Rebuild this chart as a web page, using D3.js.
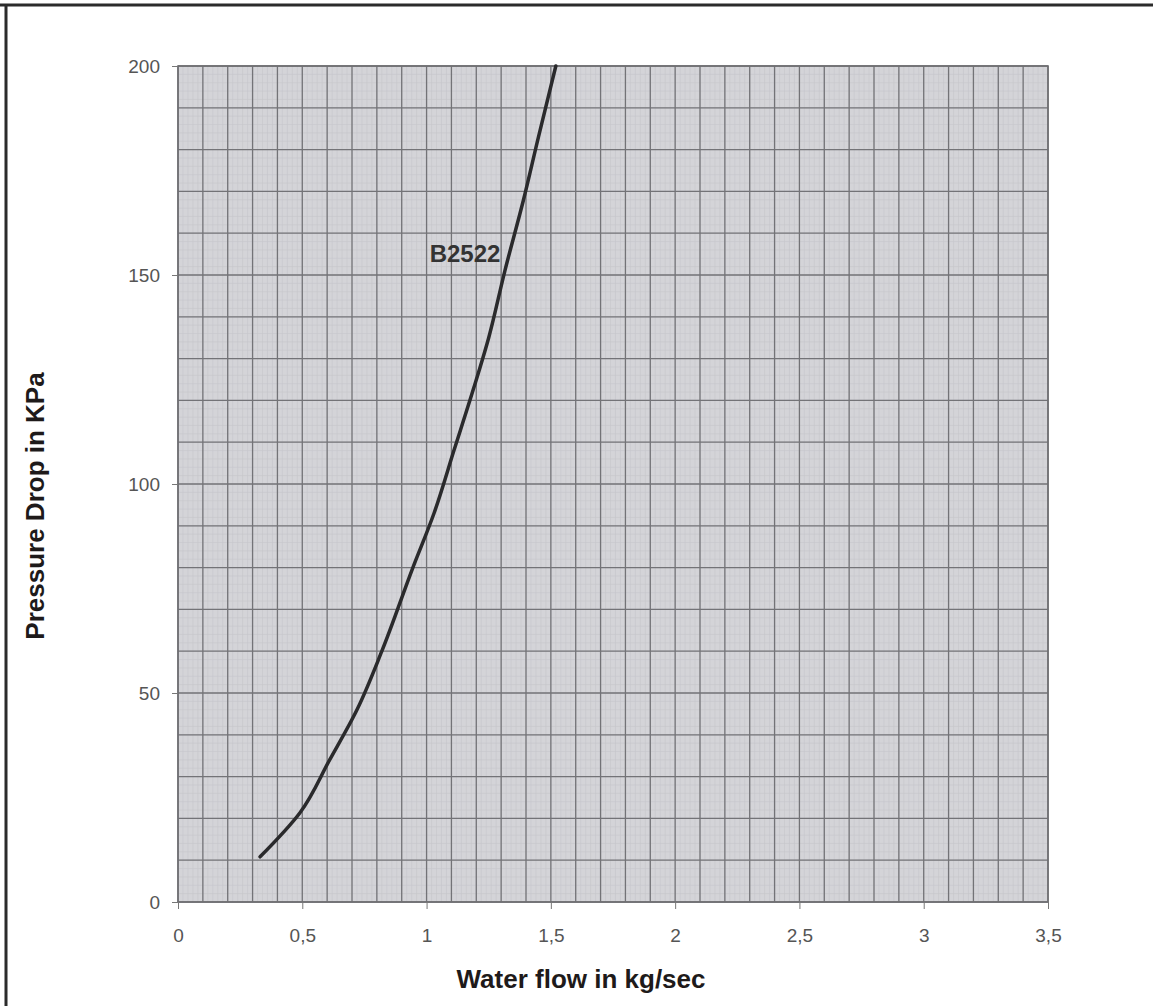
<!DOCTYPE html>
<html>
<head>
<meta charset="utf-8">
<script src="https://cdn.jsdelivr.net/npm/d3@7"></script>
<style>
body { margin: 0; background: #fff; }
svg { display: block; font-family: "Liberation Sans", Arial, sans-serif; }
</style>
</head>
<body>
<div id="chart"></div>
<script>
// curve B2522
var flow = [0.33, 0.49, 0.61, 0.72, 0.82, 0.945, 1.03, 1.11, 1.19, 1.25, 1.315, 1.39, 1.45, 1.52];
var drop = [10.8, 21.3, 34, 46, 60, 80, 93, 108, 123, 135, 151, 168, 183, 200];
var xTicks = [0, 0.5, 1, 1.5, 2, 2.5, 3, 3.5];
var yTicks = [0, 50, 100, 150, 200];
var curveName = "B2522";

var width = 1153, height = 1006;
var plotLeft = 178, plotRight = 1048, plotTop = 66, plotBottom = 902;

var svg = d3.select("#chart").append("svg")
  .attr("width", width)
  .attr("height", height);

var x = d3.scaleLinear().domain([0, 3.5]).range([plotLeft, plotRight]);
var y = d3.scaleLinear().domain([0, 200]).range([plotBottom, plotTop]);

var loc = d3.formatLocale({decimal: ",", thousands: ".", grouping: [3], currency: ["", ""]});
var fmt = loc.format("~g");

// page frame
svg.append("line").attr("x1", 0).attr("x2", width).attr("y1", 5).attr("y2", 5)
  .style("stroke", "#2b2b2b").style("stroke-width", 3);
svg.append("line").attr("x1", 6).attr("x2", 6).attr("y1", 4).attr("y2", height)
  .style("stroke", "#2b2b2b").style("stroke-width", 3);

// paper
svg.append("rect")
  .attr("x", plotLeft).attr("y", plotTop)
  .attr("width", plotRight - plotLeft).attr("height", plotBottom - plotTop)
  .style("fill", "#d4d4d8");

// fine grid
svg.append("g").selectAll("line")
  .data(d3.range(0, 3.5001, 0.02))
  .enter().append("line")
  .attr("x1", d => x(d)).attr("x2", d => x(d))
  .attr("y1", plotTop).attr("y2", plotBottom)
  .style("stroke", "#c6c6cb").style("stroke-width", 0.6);
svg.append("g").selectAll("line")
  .data(d3.range(0, 200.001, 2))
  .enter().append("line")
  .attr("x1", plotLeft).attr("x2", plotRight)
  .attr("y1", d => y(d)).attr("y2", d => y(d))
  .style("stroke", "#c6c6cb").style("stroke-width", 0.6);

// main grid
svg.append("g").selectAll("line")
  .data(d3.range(0, 3.5001, 0.1))
  .enter().append("line")
  .attr("x1", d => x(d)).attr("x2", d => x(d))
  .attr("y1", plotTop).attr("y2", plotBottom)
  .style("stroke", "#737377").style("stroke-width", 1.3);
svg.append("g").selectAll("line")
  .data(d3.range(0, 200.001, 10))
  .enter().append("line")
  .attr("x1", plotLeft).attr("x2", plotRight)
  .attr("y1", d => y(d)).attr("y2", d => y(d))
  .style("stroke", "#737377").style("stroke-width", 1.3);

svg.append("rect")
  .attr("x", plotLeft).attr("y", plotTop)
  .attr("width", plotRight - plotLeft).attr("height", plotBottom - plotTop)
  .style("fill", "none").style("stroke", "#6e6e72").style("stroke-width", 1.6);

// axes
var xAxis = svg.append("g")
  .attr("transform", "translate(0," + plotBottom + ")")
  .call(d3.axisBottom(x).tickValues(xTicks).tickFormat(fmt).tickSize(7).tickPadding(20));
var yAxis = svg.append("g")
  .attr("transform", "translate(" + plotLeft + ",0)")
  .call(d3.axisLeft(y).tickValues(yTicks).tickSize(6).tickPadding(12));
[xAxis, yAxis].forEach(function(a) {
  a.select(".domain").remove();
  a.selectAll(".tick line").style("stroke", "#777");
  a.selectAll(".tick text")
    .style("font-size", "19px")
    .style("fill", "#555")
    .style("font-family", "'Liberation Sans', Arial, sans-serif");
});

// curve
var line = d3.line()
  .x(function(d, i) { return x(flow[i]); })
  .y(function(d, i) { return y(drop[i]); })
  .curve(d3.curveMonotoneY);

svg.append("path")
  .datum(flow)
  .attr("d", line)
  .style("fill", "none")
  .style("stroke", "#2a2a2c")
  .style("stroke-width", 3.5)
  .style("stroke-linecap", "round");

svg.append("text")
  .attr("x", 465)
  .attr("y", 262)
  .attr("text-anchor", "middle")
  .style("font-size", "24px")
  .style("font-weight", "bold")
  .style("fill", "#333")
  .text(curveName);

// titles
svg.append("text")
  .attr("x", 581)
  .attr("y", 988)
  .attr("text-anchor", "middle")
  .style("font-size", "26px")
  .style("font-weight", "bold")
  .style("fill", "#1e1a1a")
  .text("Water flow in kg/sec");

svg.append("text")
  .attr("transform", "translate(44,506) rotate(-90)")
  .attr("text-anchor", "middle")
  .style("font-size", "26px")
  .style("font-weight", "bold")
  .style("fill", "#1e1a1a")
  .text("Pressure Drop in KPa");
</script>
</body>
</html>
